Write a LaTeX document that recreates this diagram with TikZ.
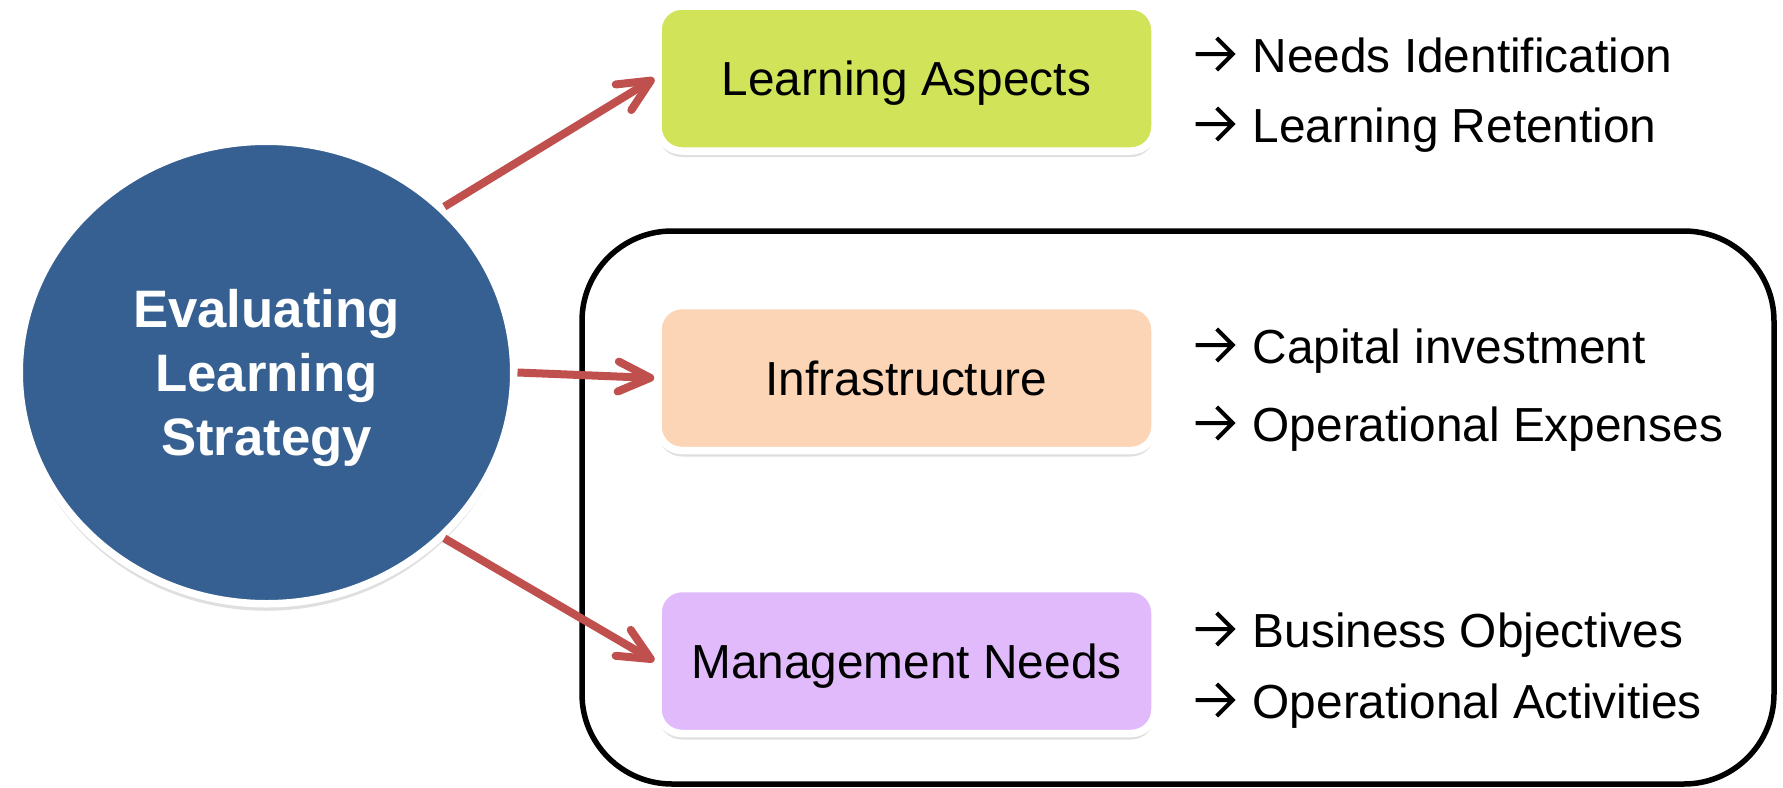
\documentclass[tikz,border=0pt]{standalone}
\usepackage{fontspec}
\setmainfont{Liberation Sans}
\usetikzlibrary{shapes.geometric, arrows.meta, shadows}

\definecolor{evblue}{RGB}{54,96,146}
\definecolor{aspgreen}{RGB}{209,227,89}
\definecolor{infpeach}{RGB}{251,213,181}
\definecolor{mgtlilac}{RGB}{225,186,252}
\definecolor{linkred}{RGB}{192,80,77}

% chevron arrow in front of each sub item
\newcommand{\pointer}{\tikz[baseline=0pt, line width=0.4mm]
  \draw (0,0.18) -- (0.37,0.18) (0.21,0.34) -- (0.37,0.18) -- (0.21,0.02);\hspace{1.8mm}}

\tikzset{
  topic/.style={rounded corners=2.4mm, draw=white, line width=0.75mm,
    minimum width=4.97cm, minimum height=1.45cm, text depth=0pt,
    font=\fontsize{13.6}{16}\selectfont,
    drop shadow={shadow xshift=0pt, shadow yshift=-0.6mm, opacity=0.25}},
  item/.style={anchor=base west, inner sep=0pt, font=\fontsize{13.6}{16}\selectfont},
  link/.style={draw=linkred, line width=0.8mm,
    -{Straight Barb[length=3.2mm, width=3mm, round]}}
}

\begin{document}
\begin{tikzpicture}
    \useasboundingbox (0,0) rectangle (17.83,7.87);
    % frame round the lower two topics
    \draw[line width=0.55mm, rounded corners=9mm] (5.82,0.03) rectangle (17.74,5.56);
    % main oval
    \node[ellipse, fill=evblue, draw=white, line width=0.75mm,
      minimum width=4.945cm, minimum height=4.625cm,
      align=center, text=white, font=\bfseries\fontsize{15}{18.2}\selectfont,
      drop shadow={shadow xshift=0pt, shadow yshift=-0.7mm, opacity=0.25}]
      (ev) at (2.665,4.145) {\rule{0pt}{4.9mm}Evaluating\\Learning\\Strategy};
    % topics
    \node[topic, fill=aspgreen] (asp) at (9.065,7.085) {Learning Aspects};
    \node[topic, fill=infpeach] (inf) at (9.065,4.09) {Infrastructure};
    \node[topic, fill=mgtlilac] (mgt) at (9.065,1.26) {Management Needs};
    % links
    \draw[link] (ev.43) -- (asp.west);
    \draw[link] (ev.east) -- (inf.west);
    \draw[link] (ev.-43) -- (mgt.west);
    % sub items
    \node[item] (asp1) at (11.93,7.15) {\pointer Needs Identification};
    \node[item] (asp2) at (11.93,6.45) {\pointer Learning Retention};
    \node[item] (inf1) at (11.93,4.24) {\pointer Capital investment};
    \node[item] (inf2) at (11.93,3.46) {\pointer Operational Expenses};
    \node[item] (mgt1) at (11.93,1.40) {\pointer Business Objectives};
    \node[item] (mgt2) at (11.93,0.69) {\pointer Operational Activities};
\end{tikzpicture}
\end{document}
